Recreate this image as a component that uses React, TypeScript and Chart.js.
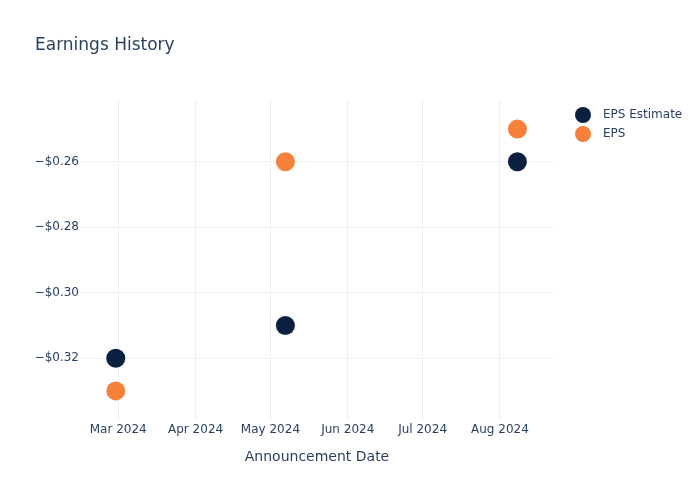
import React, { useEffect, useRef } from "react";
import { Chart, registerables } from "chart.js";

Chart.register(...registerables);

const seriesNames = ["EPS Estimate", "EPS"];
const announcementDates = ["2024-02-29", "2024-05-07", "2024-08-08"];
const epsEstimate = [-0.32, -0.31, -0.26];
const epsActual = [-0.33, -0.26, -0.25];
const seriesColors = ["#0b1f3f", "#f5813a"];
const yTicks = [-0.32, -0.3, -0.28, -0.26];
const xTickMonths = ["2024-03-01", "2024-04-01", "2024-05-01", "2024-06-01", "2024-07-01", "2024-08-01"];
const xRange = ["2024-02-14T16:00:00Z", "2024-08-22T16:00:00Z"];
const yRange = [-0.3389, -0.2411];
const chartTitle = "Earnings History";
const xAxisTitle = "Announcement Date";

const MONTHS = ["Jan", "Feb", "Mar", "Apr", "May", "Jun", "Jul", "Aug", "Sep", "Oct", "Nov", "Dec"];
const FONT = "'DejaVu Sans', 'Open Sans', sans-serif";
const TEXT = "#2a3f5f";
const GRID = "#ebf0f8";

const ts = (d: string) => Date.parse(d.length === 10 ? d + "T00:00:00Z" : d);

export default function App() {
  const ref = useRef<HTMLCanvasElement | null>(null);

  useEffect(() => {
    if (!ref.current) return;
    const overlay = {
      id: "overlay",
      afterDraw(chart: any) {
        const ctx = chart.ctx;
        ctx.save();
        ctx.fillStyle = TEXT;
        ctx.textBaseline = "middle";
        ctx.textAlign = "left";
        ctx.font = `17px ${FONT}`;
        ctx.fillText(chartTitle, 35, 46);
        ctx.font = `14px ${FONT}`;
        ctx.textAlign = "center";
        const ca = chart.chartArea;
        ctx.fillText(xAxisTitle, (ca.left + ca.right) / 2, 457);
        ctx.textAlign = "left";
        ctx.font = `12px ${FONT}`;
        chart.data.datasets.forEach((ds: any, i: number) => {
          const y = 115 + i * 19;
          ctx.beginPath();
          ctx.arc(583, y, 8, 0, Math.PI * 2);
          ctx.fillStyle = ds.backgroundColor;
          ctx.fill();
          ctx.fillStyle = TEXT;
          ctx.fillText(ds.label, 603, y);
        });
        ctx.restore();
      },
    };

    const chart = new Chart(ref.current, {
      type: "scatter",
      data: {
        datasets: [
          {
            label: seriesNames[0],
            data: announcementDates.map((d, i) => ({ x: ts(d), y: epsEstimate[i] })),
            backgroundColor: seriesColors[0],
            borderColor: seriesColors[0],
            pointRadius: 9.5,
            pointBorderWidth: 0,
          },
          {
            label: seriesNames[1],
            data: announcementDates.map((d, i) => ({ x: ts(d), y: epsActual[i] })),
            backgroundColor: seriesColors[1],
            borderColor: seriesColors[1],
            pointRadius: 9.5,
            pointBorderWidth: 0,
          },
        ],
      },
      options: {
        responsive: false,
        animation: false,
        layout: { padding: { top: 100, left: 0, right: 146, bottom: 0 } },
        plugins: { legend: { display: false }, title: { display: false }, tooltip: { enabled: false } },
        scales: {
          x: {
            type: "linear",
            min: ts(xRange[0]),
            max: ts(xRange[1]),
            afterFit: (s: any) => {
              s.height = 80;
            },
            afterBuildTicks: (s: any) => {
              s.ticks = xTickMonths.map((m) => ({ value: ts(m) }));
            },
            grid: { color: GRID, drawTicks: false, lineWidth: 1 },
            border: { display: false },
            ticks: {
              padding: 3,
              color: TEXT,
              font: { family: FONT, size: 12 },
              maxRotation: 0,
              autoSkip: false,
              callback: (v: any) => {
                const d = new Date(Number(v));
                return `${MONTHS[d.getUTCMonth()]} ${d.getUTCFullYear()}`;
              },
            },
            title: { display: false },
          },
          y: {
            min: yRange[0],
            max: yRange[1],
            afterFit: (s: any) => {
              s.width = 80;
            },
            afterBuildTicks: (s: any) => {
              s.ticks = yTicks.map((v) => ({ value: v }));
            },
            grid: { color: GRID, drawTicks: false, lineWidth: 1 },
            border: { display: false },
            ticks: {
              padding: 1,
              color: TEXT,
              font: { family: FONT, size: 12 },
              callback: (v: any) => {
                const n = Number(v);
                return (n < 0 ? "\u2212" : "") + "$" + Math.abs(n).toFixed(2);
              },
            },
          },
        },
      },
      plugins: [overlay],
    } as any);
    return () => chart.destroy();
  }, []);

  return (
    <div style={{ position: "fixed", left: 0, top: 0, width: 700, height: 500, background: "#fff" }}>
      <canvas ref={ref} width={700} height={500} />
    </div>
  );
}
